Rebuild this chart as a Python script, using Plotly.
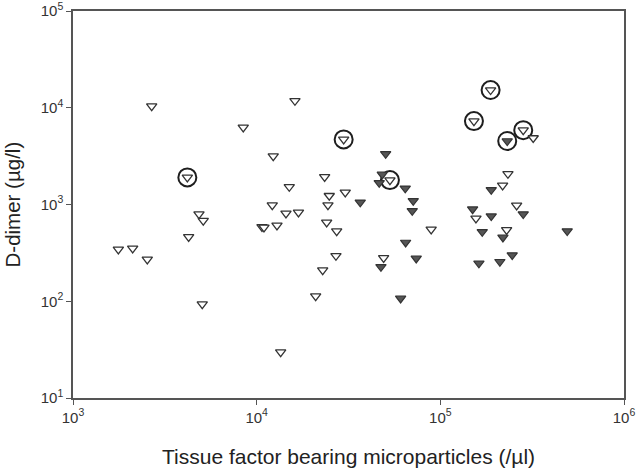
import plotly.graph_objects as go

# Open triangles (not circled)
open_x = [1766, 2113, 2538, 2682, 8453, 16160, 12310, 15050, 12160, 14440, 16890,
          4852, 5119, 4263, 10690, 10960, 12900, 5055, 13510, 23450, 30360, 24850,
          24440, 24050, 27270, 89160, 27020, 49120, 22880, 20950, 320400, 233400,
          218300, 260300, 156300, 229600]
open_y = [344, 352, 271, 10400, 6270, 11800, 3160, 1524, 986, 809, 828,
          796, 680, 463, 588, 580, 608, 93.3, 29.8, 1932, 1334, 1231,
          986, 653, 531, 552, 295, 281, 210, 113, 4866, 2077,
          1573, 980, 718, 547]

# Filled triangles (not circled)
filled_x = [50390, 48290, 46480, 64410, 71200, 70310, 36640, 64720, 73920, 47500,
            60790, 189300, 282700, 149900, 189300, 169100, 219200, 490700,
            162200, 211000, 246200]
filled_y = [3340, 2046, 1675, 1469, 1092, 861, 1053, 405, 277, 227,
            107, 1419, 796, 895, 758, 522, 457, 531,
            247, 256, 300]

# Circled points
circ_open_x = [4193, 29760, 53160, 187800, 152400, 282700]
circ_open_y = [1905, 4710, 1787, 15240, 7280, 5870]
circ_filled_x = [231300]
circ_filled_y = [4530]

x_tickvals = [1e3, 1e4, 1e5, 1e6]
x_ticktext = ["10<sup>3</sup>", "10<sup>4</sup>", "10<sup>5</sup>", "10<sup>6</sup>"]
y_tickvals = [1e1, 1e2, 1e3, 1e4, 1e5]
y_ticktext = ["10<sup>1</sup>", "10<sup>2</sup>", "10<sup>3</sup>", "10<sup>4</sup>", "10<sup>5</sup>"]

x_title = "Tissue factor bearing microparticles (/µl)"
y_title = "D-dimer (µg/l)"

FONT = "Arial, Liberation Sans, sans-serif"
fig = go.Figure()

fig.add_trace(go.Scatter(
    x=circ_open_x + circ_filled_x, y=circ_open_y + circ_filled_y, mode="markers",
    marker=dict(symbol="circle-open", size=18, color="#1e1e1e", line=dict(width=2, color="#1e1e1e")),
    hoverinfo="skip", showlegend=False))

fig.add_trace(go.Scatter(
    x=open_x + circ_open_x, y=open_y + circ_open_y, mode="markers",
    marker=dict(symbol="triangle-down", size=9, color="white", line=dict(width=1.3, color="#333333")),
    showlegend=False))

fig.add_trace(go.Scatter(
    x=filled_x + circ_filled_x, y=filled_y + circ_filled_y, mode="markers",
    marker=dict(symbol="triangle-down", size=9, color="#555555", line=dict(width=1.2, color="#333333")),
    showlegend=False))

axis_common = dict(
    type="log", showgrid=False, zeroline=False, automargin=False,
    showline=True, linecolor="#555555", linewidth=1.5, mirror=True,
    ticks="outside", ticklen=5, tickwidth=1.2, tickcolor="#555555",
    ticklabeloverflow="allow",
    tickfont=dict(family=FONT, size=15, color="#333333"),
)

fig.update_xaxes(range=[3, 6], tickvals=x_tickvals, ticktext=x_ticktext, **axis_common)
fig.update_yaxes(range=[1, 5], tickvals=y_tickvals, ticktext=y_ticktext, **axis_common)

fig.update_layout(
    width=640, height=471,
    margin=dict(l=73, r=16, t=11, b=73),
    paper_bgcolor="white", plot_bgcolor="white",
    font=dict(family=FONT),
    annotations=[
        dict(text=x_title, xref="paper", yref="paper", x=0.5, y=0, xanchor="center",
             yanchor="middle", yshift=-58, showarrow=False,
             font=dict(family=FONT, size=21, color="#222222")),
        dict(text=y_title, xref="paper", yref="paper", x=0, y=0.5, xanchor="center",
             yanchor="middle", xshift=-61, textangle=-90, showarrow=False,
             font=dict(family=FONT, size=20.5, color="#222222")),
    ],
)

fig.write_html("out.html", config={"displayModeBar": False},
               post_script="document.body.style.margin='0';document.body.style.overflow='hidden';")
